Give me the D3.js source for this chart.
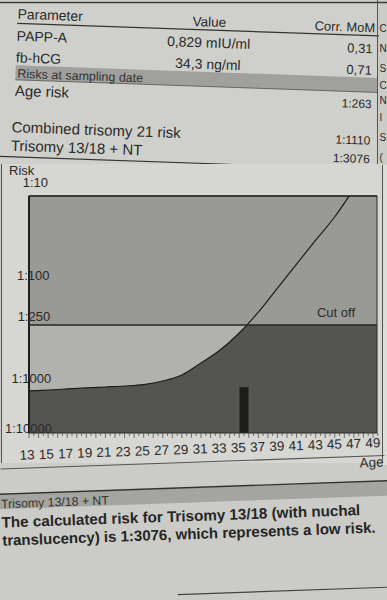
<!DOCTYPE html>
<html>
<head>
<meta charset="utf-8">
<script src="https://cdn.jsdelivr.net/npm/d3@7"></script>
<style>
  body { margin: 0; background: #cdcec9; }
  svg { display: block; font-family: "Liberation Sans", Arial, sans-serif; }
</style>
</head>
<body>
<script>
// report table
const paramNames = ["PAPP-A", "fb-hCG"];
const paramValues = ["0,829 mIU/ml", "34,3 ng/ml"];
const paramMoM = ["0,31", "0,71"];
const riskNames = ["Age risk", "Combined trisomy 21 risk", "Trisomy 13/18 + NT"];
const riskValues = ["1:263", "1:1110", "1:3076"];

// age risk curve (risk = 1:n)
const ages    = [13, 15, 17, 19, 21, 23, 25, 27, 29, 31, 33, 35, 37, 39, 41, 43, 45, 46.5];
const ageRisk = [1330, 1270, 1210, 1150, 1100, 1050, 990, 912, 794, 601, 446, 301, 185, 105, 57, 31, 17, 10];
const riskTicks = [10, 100, 250, 1000, 10000];
const ageTicks = d3.range(13, 50, 2);
const cutOff = 250;
const patientAge = 35.5;
const patientRisk = 1110;

// no d3-selection-multi here, small stand-in
d3.selection.prototype.attrs = function(o) {
  for (const k in o) this.attr(k, o[k]);
  return this;
};

const W = 387, H = 600;
const ink = "#2a2a2a";

const svg = d3.select("body").append("svg")
    .attr("width", W)
    .attr("height", H);

svg.append("rect").attr("width", W).attr("height", H).attr("fill", "#cbccc7");
svg.append("rect").attr("width", 378).attr("height", 165).attr("fill", "#cfd0cb");

// top border
svg.append("line").attrs({x1: 0, x2: W, y1: 2.5, y2: 2.5, stroke: "#3a3a3a", "stroke-width": 1.3});

// ---- table (paper is a bit tilted in the photo)
const tbl = svg.append("g").attr("transform", "rotate(2,193,90)");

tbl.append("text").text("Parameter").attrs({x: 15, y: 25, "font-size": 14, fill: ink});
tbl.append("text").text("Value").attrs({x: 207, y: 26, "font-size": 13.5, fill: ink, "text-anchor": "middle"});
tbl.append("text").text("Corr. MoM").attrs({x: 373, y: 26, "font-size": 13, fill: ink, "text-anchor": "end"});
tbl.append("line").attrs({x1: 15, x2: 377, y1: 29.5, y2: 29.5, stroke: "#333", "stroke-width": 1.2});

paramNames.forEach((p, i) => {
  const ry = 47 + i * 21.5;
  tbl.append("text").text(p).attrs({x: 15, y: ry, "font-size": 14, fill: ink});
  tbl.append("text").text(paramValues[i]).attrs({x: 207, y: ry, "font-size": 14, fill: ink, "text-anchor": "middle"});
  tbl.append("text").text(paramMoM[i]).attrs({x: 371, y: ry, "font-size": 13, fill: ink, "text-anchor": "end"});
});

tbl.append("rect").attrs({x: 15, y: 71.5, width: 362, height: 14.5, fill: "#a0a19c"});
tbl.append("line").attrs({x1: 15, x2: 377, y1: 86, y2: 86, stroke: "#555", "stroke-width": 0.8});
tbl.append("text").text("Risks at sampling date").attrs({x: 17, y: 84, "font-size": 12.5, fill: "#333"});

const riskRowY = [102, 138.5, 157];
riskNames.forEach((r, i) => {
  tbl.append("text").text(r).attrs({x: i ? 13 : 15, y: riskRowY[i], "font-size": 15, fill: ink});
  tbl.append("text").text(riskValues[i]).attrs({x: 372, y: riskRowY[i], "font-size": 12, fill: ink, "text-anchor": "end"});
});
tbl.append("line").attrs({x1: 0, x2: 377, y1: 163, y2: 163, stroke: "#333", "stroke-width": 1.2});

// right column border and the first letters of the next column
svg.append("line").attrs({x1: 377.5, x2: 377.5, y1: 0, y2: 165, stroke: "#555", "stroke-width": 1});
["C", "N", "S", "C", "N", "I", "S", "("].forEach((c, i) => {
  svg.append("text").text(c).attrs({x: 379.5, y: [32, 52, 72, 89, 104, 121, 141, 161][i], "font-size": 10, fill: ink});
});

// ---- chart panel
svg.append("rect").attrs({x: 1.5, y: 164, width: 381, height: 299, fill: "#d6d7d2"});
svg.append("line").attrs({x1: 1.5, x2: 1.5, y1: 164, y2: 463, stroke: "#555", "stroke-width": 1});
svg.append("line").attrs({x1: 382.5, x2: 382.5, y1: 165, y2: 460, stroke: "#555", "stroke-width": 1});
svg.append("rect").attrs({x: 383, y: 165, width: 4, height: 300, fill: "#dcddd8"});

const x = d3.scaleLinear().domain([13, 49]).range([29, 373]);
const y = d3.scaleLog().domain(riskTicks).range([196, 286, 325, 385, 433]);

const plotL = x(13), plotR = 377, plotT = y(10), plotB = y(10000);
const data = ages.map((a, i) => ({age: a, risk: ageRisk[i]}));

svg.append("clipPath").attr("id", "plot")
  .append("rect").attrs({x: plotL, y: plotT, width: plotR - plotL, height: plotB - plotT});
svg.append("clipPath").attr("id", "below")
  .append("rect").attrs({x: plotL, y: y(cutOff), width: plotR - plotL, height: plotB - y(cutOff)});

// high risk zone
svg.append("rect").attrs({x: plotL, y: plotT, width: plotR - plotL, height: y(cutOff) - plotT, fill: "#999a96"});
// under the cut off
svg.append("rect").attrs({x: plotL, y: y(cutOff), width: plotR - plotL, height: plotB - y(cutOff), fill: "#545551"});

svg.append("path")
  .datum(data)
  .attr("clip-path", "url(#below)")
  .attr("fill", "#b1b2ad")
  .attr("d", d3.area()
      .x(d => x(d.age))
      .y0(y(cutOff))
      .y1(d => y(d.risk))
      .curve(d3.curveMonotoneX));

svg.append("path")
  .datum(data)
  .attr("clip-path", "url(#plot)")
  .attrs({fill: "none", stroke: "#1c1c1c", "stroke-width": 1.2})
  .attr("d", d3.line()
      .x(d => x(d.age))
      .y(d => y(d.risk))
      .curve(d3.curveMonotoneX));

svg.append("line").attrs({x1: plotL, x2: plotR, y1: y(cutOff), y2: y(cutOff), stroke: "#262626", "stroke-width": 1.3});
svg.append("text").text("Cut off")
  .attrs({x: plotR - 22, y: y(cutOff) - 8, "font-size": 13, fill: ink, "text-anchor": "end"});

// patient
svg.append("rect").attrs({
  x: x(patientAge) - 4.5, y: y(patientRisk),
  width: 9, height: plotB - y(patientRisk), fill: "#1d1e1c"
});

// frame
svg.append("rect").attrs({x: plotL, y: plotT, width: plotR - plotL, height: plotB - plotT,
  fill: "none", stroke: "#2a2a2a", "stroke-width": 1});
svg.append("line").attrs({x1: plotL, x2: plotL, y1: plotT, y2: plotB, stroke: "#1e1e1e", "stroke-width": 2});
svg.append("line").attrs({x1: plotL, x2: plotR, y1: plotT, y2: plotT, stroke: "#2a2a2a", "stroke-width": 1.4});

// y labels
svg.append("text").text("Risk").attrs({x: 9, y: 175, "font-size": 13, fill: ink});
svg.selectAll(".ylab")
  .data(riskTicks)
  .enter()
  .append("text")
  .attr("class", "ylab")
  .text(d => "1:" + d)
  .attrs({
    x: d => 48 + (y(d) - plotT) / (plotB - plotT) * 4,
    y: d => y(d) - 9 * (plotB - y(d)) / (plotB - plotT),
    "font-size": 13, fill: ink, "text-anchor": "end"
  });

// age ruler
svg.selectAll(".tk")
  .data(d3.range(13, 49.6, 0.5))
  .enter()
  .append("line")
  .attr("class", "tk")
  .attrs({
    x1: d => x(d), x2: d => x(d),
    y1: plotB, y2: d => plotB + (d % 1 === 0 ? 5 : 3),
    stroke: "#444", "stroke-width": 0.7
  });

const xg = svg.append("g").attr("transform", "rotate(-2,200,449)");
xg.selectAll("text")
  .data(ageTicks)
  .enter()
  .append("text")
  .text(d => d)
  .attrs({x: d => x(d) - 2 + (d - 13) / 36 * 2, y: 453.5, "font-size": 13.5, fill: ink, "text-anchor": "middle"});
xg.append("text").text("Age").attrs({x: 371, y: 473, "font-size": 13.5, fill: ink, "text-anchor": "middle"});
xg.append("line").attrs({x1: 0, x2: 384, y1: 462, y2: 462, stroke: "#555", "stroke-width": 1.1});

// ---- bottom comment
const bot = svg.append("g").attr("transform", "rotate(-2,193,515)");
bot.append("rect").attrs({x: -10, y: 488, width: 410, height: 14.5, fill: "#a4a5a0"});
bot.append("line").attrs({x1: -10, x2: 400, y1: 487.5, y2: 487.5, stroke: "#333", "stroke-width": 1.4});
bot.append("text").text("Trisomy 13/18 + NT").attrs({x: 1.5, y: 501.5, "font-size": 12.3, fill: "#333"});
bot.append("text").text("The calculated risk for Trisomy 13/18 (with nuchal")
  .attrs({x: 1.5, y: 521, "font-size": 15.2, "font-weight": "bold", fill: "#262626"});
bot.append("text").text("translucency) is 1:3076, which represents a low risk.")
  .attrs({x: 1.5, y: 539, "font-size": 15, "font-weight": "bold", fill: "#262626"});
bot.append("line").attrs({x1: 175, x2: 400, y1: 594, y2: 594, stroke: "#444", "stroke-width": 1.1});
</script>
</body>
</html>
